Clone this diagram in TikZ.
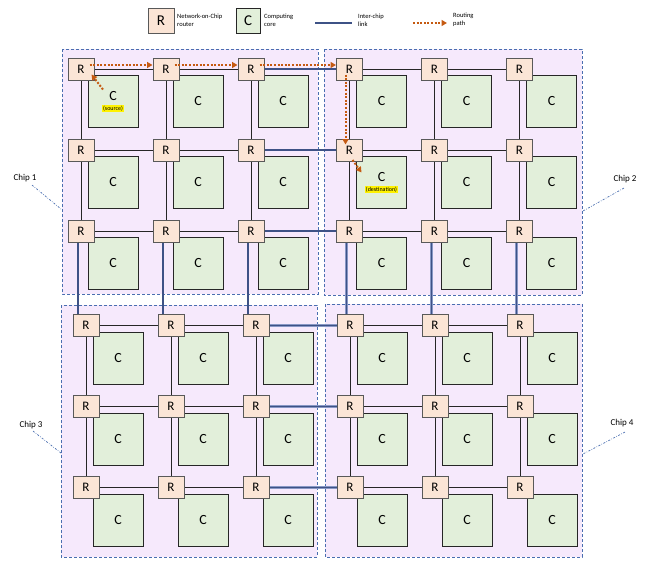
\documentclass[tikz,border=0pt]{standalone}
\usepackage{fontspec}
\setmainfont{Carlito}
\usetikzlibrary{arrows.meta,positioning,calc}
\definecolor{chipfill}{RGB}{246,233,252}
\definecolor{chipline}{RGB}{74,110,176}
\definecolor{routerfill}{RGB}{251,229,214}
\definecolor{corefill}{RGB}{226,239,218}
\definecolor{linkdark}{RGB}{62,82,134}
\definecolor{linklight}{RGB}{136,152,198}
\definecolor{pathorange}{RGB}{197,90,17}
\pgfdeclarelayer{bg}
\pgfdeclarelayer{links}
\pgfsetlayers{bg,links,main}
\tikzset{
	routerbox/.style={rectangle, draw=black!65, line width=1pt, fill=routerfill,
		minimum width=26pt, minimum height=22pt, inner sep=0pt, font=\fontsize{13}{14}\selectfont},
	corebox/.style={rectangle, draw=black!85, line width=1pt, fill=corefill,
		minimum width=50pt, minimum height=52pt, inner sep=0pt, align=center, font=\fontsize{14}{12}\selectfont},
	chipbox/.style={draw=chipline, fill=chipfill, line width=0.8pt, dash pattern=on 3pt off 2pt},
	noclink/.style={draw=black!85, line width=0.8pt},
	interlink/.style={draw=linklight, line width=0.8pt, double=linkdark, double distance=1.3pt},
	routepath/.style={draw=pathorange, line width=2pt, dash pattern=on 2pt off 1.6pt,
		-{Triangle[length=5.5pt,width=6pt]}},
	chipcallout/.style={draw=chipline, line width=0.7pt, dash pattern=on 2pt off 1.5pt on 0.6pt off 1.5pt},
	chiplabel/.style={font=\fontsize{9}{10}\selectfont, inner sep=1pt},
	legendtext/.style={font=\fontsize{6.5}{8}\selectfont, align=left, anchor=west, inner sep=0pt}
}
\newcommand{\tagbox}[1]{{\fontsize{6}{6}\selectfont\setlength{\fboxsep}{0.6pt}\colorbox{yellow}{#1}}}

\begin{document}
\begin{tikzpicture}[x=1pt, y=-1pt]
	\useasboundingbox (0,0) rectangle (646,562);
	% chips
	\begin{pgfonlayer}{bg}
		\draw[chipbox] (62,49) rectangle (318,294);
		\draw[chipbox] (324,49) rectangle (582,295);
		\draw[chipbox] (61,305) rectangle (317,557);
		\draw[chipbox] (325,304) rectangle (582,557);
	\end{pgfonlayer}
	% routers and cores
	\foreach \k/\xo/\yo in {1/81/69, 2/349.5/69, 3/86/325.5, 4/350/325.5}{
		\foreach \i in {1,2,3}{
			\foreach \j in {1,2,3}{
				\def\coretext{C}
				\ifnum\k\i\j=111 \def\coretext{C\\[-2pt]\tagbox{(source)}}\fi
				\ifnum\k\i\j=221 \def\coretext{C\\[-2pt]\tagbox{(destination)}}\fi
				\node[corebox] (c\k-\i-\j) at ({\xo+85*(\j-1)+32},{\yo+81*(\i-1)+32.5}) {\coretext};
				\node[routerbox] (r\k-\i-\j) at ({\xo+85*(\j-1)},{\yo+81*(\i-1)}) {R};
			}
		}
	}
	% links
	\begin{pgfonlayer}{links}
		\foreach \k in {1,...,4}{
			\foreach \i in {1,2,3}{
				\draw[noclink] (r\k-\i-1) -- (r\k-\i-2) -- (r\k-\i-3);
				\draw[noclink] (r\k-1-\i) -- (r\k-2-\i) -- (r\k-3-\i);
			}
		}
		\foreach \i in {1,2,3}{
			\draw[interlink] (r1-\i-3) -- (r2-\i-1);
			\draw[interlink] (r3-\i-3) -- (r4-\i-1);
			\draw[interlink] ([xshift=-3pt]r1-3-\i.south) -- ([xshift=-3pt]r1-3-\i.south |- r3-1-\i.north);
			\draw[interlink] ([xshift=-3pt]r2-3-\i.south) -- ([xshift=-3pt]r2-3-\i.south |- r4-1-\i.north);
		}
	\end{pgfonlayer}
	% routing path
	\draw[routepath] ([shift={(-10,-12)}]c1-1-1.center) -- ([shift={(-3,-6)}]r1-1-1.south east);
	\draw[routepath] ([shift={(-5,-4)}]r1-1-1.east) -- ([yshift=4pt]r1-1-2.west);
	\draw[routepath] ([shift={(-5,-4)}]r1-1-2.east) -- ([yshift=4pt]r1-1-3.west);
	\draw[routepath] ([shift={(-5,-4)}]r1-1-3.east) -- ([yshift=4pt]r2-1-1.west);
	\draw[routepath] ([shift={(-4,-6)}]r2-1-1.south) -- ([shift={(-4,6)}]r2-2-1.north);
	\draw[routepath] ([shift={(3,10)}]r2-2-1.center) -- ([shift={(-20,-10)}]c2-2-1.center);
	% legend
	\node[routerbox, minimum height=25pt, font=\fontsize{15}{16}\selectfont] (lgr) at (161,21) {R};
	\node[legendtext] (lgrt) at (177,20) {Network-on-Chip\\router};
	\node[corebox, minimum width=24pt, minimum height=25pt, font=\fontsize{15}{16}\selectfont] (lgc) at (248,21) {C};
	\node[legendtext] (lgct) at (264,20) {Computing\\core};
	\coordinate (lgl-a) at (315,23);
	\coordinate (lgl-b) at (352,23);
	\draw[interlink] (lgl-a) -- (lgl-b);
	\node[legendtext] (lglt) at (358,20) {Inter-chip\\link};
	\coordinate (lgp-a) at (413,23);
	\coordinate (lgp-b) at (447,23);
	\draw[routepath] (lgp-a) -- (lgp-b);
	\node[legendtext] (lgpt) at (453,20) {Routing\\path};
	% chip labels
	\node[chiplabel] (lab1) at (25,178) {Chip 1};
	\node[chiplabel] (lab2) at (625,179) {Chip 2};
	\node[chiplabel] (lab3) at (31,425) {Chip 3};
	\node[chiplabel] (lab4) at (622,423) {Chip 4};
	\coordinate (tip1) at (61,209);
	\coordinate (tip2) at (583,211);
	\coordinate (tip3) at (61,453);
	\coordinate (tip4) at (583,454);
	\draw[chipcallout] ([shift={(7,2)}]lab1.south) -- (tip1);
	\draw[chipcallout] ([shift={(-1,4)}]lab2.south) -- (tip2);
	\draw[chipcallout] ([shift={(2,1)}]lab3.south) -- (tip3);
	\draw[chipcallout] ([shift={(3,4)}]lab4.south) -- (tip4);
\end{tikzpicture}
\end{document}
